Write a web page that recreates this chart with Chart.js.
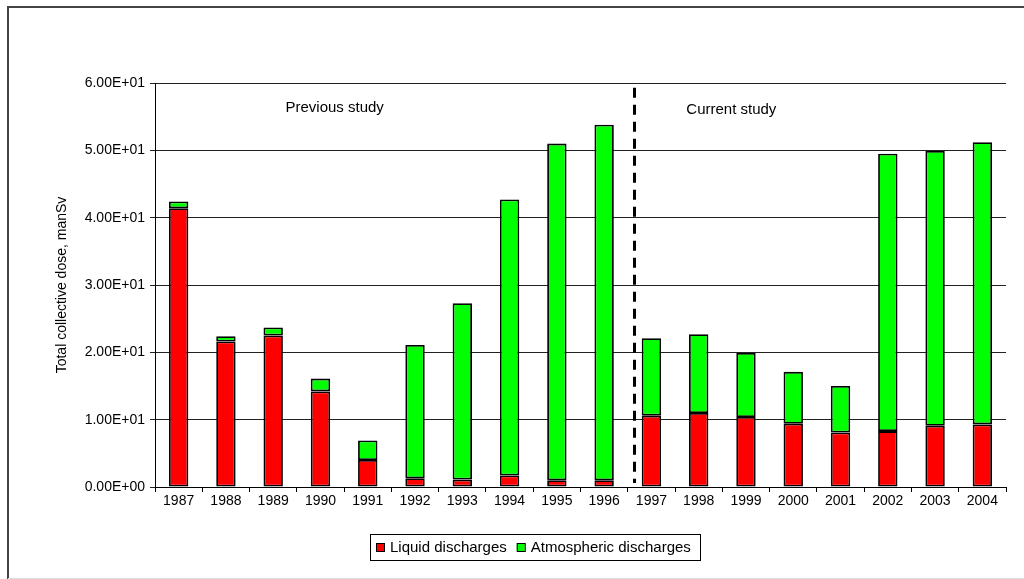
<!DOCTYPE html>
<html>
<head>
<meta charset="utf-8">
<script src="https://cdn.jsdelivr.net/npm/chart.js@4.4.0/dist/chart.umd.min.js"></script>
<style>
  html, body { margin: 0; padding: 0; background: #fff; }
  #wrap { width: 1024px; height: 579px; position: relative; }
</style>
</head>
<body>
<div id="wrap"><canvas id="chart" width="1024" height="579"></canvas></div>
<script>
// Data (manSv)
const years = ['1987', '1988', '1989', '1990', '1991', '1992', '1993', '1994', '1995',
               '1996', '1997', '1998', '1999', '2000', '2001', '2002', '2003', '2004'];
const liquid = [41.4, 21.6, 22.5, 14.2, 4.0, 1.3, 1.1, 1.7, 1.0,
                1.0, 10.6, 11.0, 10.4, 9.4, 8.1, 8.3, 9.1, 9.3];
const atmospheric = [1.0, 0.8, 1.2, 1.9, 2.9, 19.8, 26.2, 41.0, 50.0,
                     52.8, 11.5, 11.7, 9.5, 7.7, 6.9, 41.2, 40.8, 41.9];
const yTicks = [0, 10, 20, 30, 40, 50, 60];

const FONT = 'Liberation Sans, Arial, sans-serif';

function sci(v) {
    if (v === 0) return '0.00E+00';
    const e = Math.floor(Math.log10(Math.abs(v)));
    const m = v / Math.pow(10, e);
    const ee = String(Math.abs(e)).padStart(2, '0');
    return m.toFixed(2) + 'E' + (e < 0 ? '-' : '+') + ee;
}

// dashed divider, study labels, legend box and page frame
const extras = {
    id: 'extras',
    afterDraw(chart) {
        const ctx = chart.ctx;
        const x = chart.scales.x, y = chart.scales.y;
        ctx.save();

        // divider between the two studies
        const dx = Math.round(x.getPixelForValue(9.63)) + 0.5;
        ctx.strokeStyle = '#000';
        ctx.lineWidth = 3;
        ctx.setLineDash([10, 7]);
        ctx.beginPath();
        ctx.moveTo(dx, y.getPixelForValue(59.3));
        ctx.lineTo(dx, y.getPixelForValue(0.6));
        ctx.stroke();
        ctx.setLineDash([]);

        ctx.fillStyle = '#000';
        ctx.font = '15px ' + FONT;
        ctx.textAlign = 'center';
        ctx.textBaseline = 'middle';
        ctx.fillText('Previous study', x.getPixelForValue(3.3), y.getPixelForValue(56.3));
        ctx.fillText('Current study', x.getPixelForValue(11.69), y.getPixelForValue(56.0));

        // legend
        ctx.lineWidth = 1;
        ctx.strokeStyle = '#000';
        ctx.strokeRect(370.5, 534.5, 330, 26);
        ctx.textAlign = 'left';
        ctx.font = '15px ' + FONT;
        let lx = 376;
        chart.data.datasets.forEach(ds => {
            ctx.fillStyle = ds.backgroundColor;
            ctx.fillRect(lx, 543, 8, 8);
            ctx.strokeRect(lx + 0.5, 543.5, 8, 8);
            ctx.fillStyle = '#000';
            ctx.fillText(ds.label, lx + 14, 547.5);
            lx += 14 + ctx.measureText(ds.label).width + 10;
        });

        // outer frame
        ctx.strokeStyle = '#444';
        ctx.lineWidth = 2;
        ctx.beginPath();
        ctx.moveTo(8, 579);
        ctx.lineTo(8, 7);
        ctx.lineTo(1024, 7);
        ctx.stroke();
        ctx.strokeStyle = '#ddd';
        ctx.lineWidth = 1;
        ctx.beginPath();
        ctx.moveTo(8, 578.5);
        ctx.lineTo(1024, 578.5);
        ctx.stroke();
        ctx.restore();
    }
};

new Chart(document.getElementById('chart'), {
    type: 'bar',
    data: {
        labels: years,
        datasets: [
            {
                label: 'Liquid discharges',
                data: liquid,
                backgroundColor: '#ff0000',
                borderColor: '#000000',
                borderWidth: 1.8,
                borderSkipped: false,
                inflateAmount: 0
            },
            {
                label: 'Atmospheric discharges',
                data: atmospheric,
                backgroundColor: '#00ff00',
                borderColor: '#000000',
                borderWidth: 1.8,
                borderSkipped: false,
                inflateAmount: 0
            }
        ]
    },
    options: {
        responsive: false,
        animation: false,
        devicePixelRatio: 1,
        layout: { padding: { left: 0, top: 83, right: 18, bottom: 62 } },
        datasets: { bar: { categoryPercentage: 1, barPercentage: 0.41 } },
        plugins: { legend: { display: false }, tooltip: { enabled: false } },
        scales: {
            x: {
                stacked: true,
                afterFit: s => { s.height = 30; },
                grid: { drawOnChartArea: false, offset: true, tickLength: 5, color: '#000' },
                border: { color: '#000', width: 1 },
                ticks: { color: '#000', padding: 1, maxRotation: 0, autoSkip: false, font: { family: FONT, size: 14 } }
            },
            y: {
                stacked: true,
                min: 0,
                max: 60,
                afterFit: s => { s.width = 155; },
                afterBuildTicks: s => { s.ticks = yTicks.map(v => ({ value: v })); },
                grid: { color: '#222', tickLength: 5 },
                border: { color: '#000', width: 1 },
                ticks: { color: '#000', padding: 5, callback: v => sci(v), font: { family: FONT, size: 14 } },
                title: {
                    display: true,
                    text: 'Total collective dose, manSv',
                    color: '#000',
                    font: { family: FONT, size: 14 },
                    padding: { top: 54, bottom: 0 }
                }
            }
        }
    },
    plugins: [extras]
});
</script>
</body>
</html>
